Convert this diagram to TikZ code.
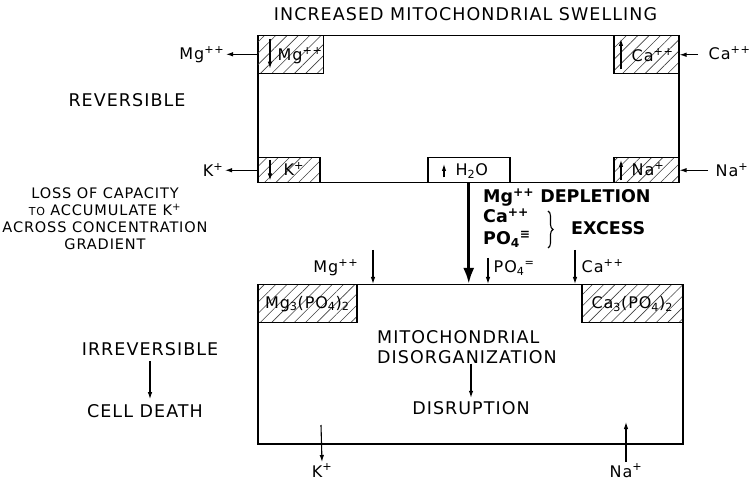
\documentclass[tikz,border=0pt]{standalone}
\usepackage{fontspec}
\setmainfont{DejaVu Sans}[LetterSpace=6,BoldFeatures={LetterSpace=0}]
\usetikzlibrary{positioning,arrows.meta,patterns.meta,decorations.pathreplacing}

\begin{document}
\begin{tikzpicture}[x=1pt,y=-1pt,
  big/.style={font=\fontsize{17.5}{20}\selectfont,inner sep=0pt},
  bigb/.style={font=\fontsize{17.5}{20}\selectfont\bfseries,inner sep=0pt},
  mid/.style={font=\fontsize{14.5}{17}\selectfont,inner sep=0pt},
  ion/.style={font=\fontsize{16}{18}\selectfont,inner sep=1.5pt},
  memb/.style={draw,line width=1.5pt,anchor=north west,inner sep=0pt},
  hb/.style={memb,pattern={Lines[angle=45,distance=8pt,line width=0.6pt]},pattern color=black!75,font=\fontsize{16}{18}\selectfont},
  ar/.style={-{Latex[length=7pt,width=4.5pt]},line width=1.1pt},
  thk/.style={-{Latex[length=16pt,width=11pt]},line width=3pt}]
  \useasboundingbox (0,0) rectangle (753,481);
  % upper mitochondrion
  \node[big] (title) at (465.5,14) {INCREASED MITOCHONDRIAL SWELLING};
  \node[memb,minimum width=421,minimum height=147] (swell) at (257,35) {};
  \node[hb,minimum width=66,minimum height=38] (mgbox) at (257,35) {};
  \node[hb,minimum width=65,minimum height=38] (cabox) at (613,35) {};
  \node[hb,minimum width=62,minimum height=25] (kbox) at (257,157) {};
  \node[hb,minimum width=65,minimum height=25] (nabox) at (613,157) {};
  \node[memb,fill=white,minimum width=82,minimum height=25] (h2o) at (427,157) {};
  \node[ion,anchor=base west] (mgt) at (276,61) {Mg\textsuperscript{++}};
  \node[ion,anchor=base west] (cat) at (630,62) {Ca\textsuperscript{++}};
  \node[ion,anchor=base west] (kt) at (282,176) {K\textsuperscript{+}};
  \node[ion,anchor=base west] (nat) at (630,176) {Na\textsuperscript{+}};
  \node[ion,anchor=base west] (h2ot) at (454,176) {H\textsubscript{2}O};
  \draw[ar] ([xshift=13pt,yshift=-4pt]mgbox.north west) -- ([xshift=13pt,yshift=5pt]mgbox.south west);
  \draw[ar] ([xshift=8pt,yshift=5pt]cabox.south west) -- ([xshift=8pt,yshift=-4pt]cabox.north west);
  \draw[ar] ([xshift=13pt,yshift=-3pt]kbox.north west) -- ([xshift=13pt,yshift=3pt]kbox.south west);
  \draw[ar] ([xshift=8pt,yshift=3pt]nabox.south west) -- ([xshift=8pt,yshift=-3pt]nabox.north west);
  \draw[ar] ([xshift=17pt,yshift=6pt]h2o.south west) -- ([xshift=17pt,yshift=-7pt]h2o.north west);
  % ions in and out
  \node[ion,anchor=base east] (mgout) at (226,60) {Mg\textsuperscript{++}};
  \node[ion,anchor=base east] (kout) at (225,177) {K\textsuperscript{+}};
  \node[ion,anchor=base west] (caout) at (707,60) {Ca\textsuperscript{++}};
  \node[ion,anchor=base west] (naout) at (714,177) {Na\textsuperscript{+}};
  \draw[ar] (mgbox.west) -- (mgbox.west -| mgout.east);
  \draw[ar] (kbox.west) -- (kbox.west -| kout.east);
  \draw[ar,shorten <=9pt] (cabox.east -| caout.west) -- (cabox.east);
  \draw[ar,shorten <=6pt] (nabox.east -| naout.west) -- (nabox.east);
  \node[big] (rev) at (127,100) {REVERSIBLE};
  \node[mid,align=center] (loss) at (105,219) {LOSS OF CAPACITY\\{\fontsize{11}{17}\selectfont TO} ACCUMULATE K\textsuperscript{+}\\ACROSS CONCENTRATION\\GRADIENT};
  % transition
  \node[memb,minimum width=425,minimum height=159] (lowbox) at (257,284) {};
  \draw[thk] (swell.south -| h2o) -- (lowbox.north -| h2o);
  \node[bigb,anchor=base west] (depl) at (483,203) {Mg\textsuperscript{++} DEPLETION};
  \node[bigb,anchor=base west] (caex) at (483,223) {Ca\textsuperscript{++}};
  \node[bigb,anchor=base west] (poex) at (483,245) {PO\textsubscript{4}\textsuperscript{≡}};
  \draw[line width=1.1pt,decorate,decoration={brace,amplitude=5pt}] (548,211) -- (548,248);
  \node[bigb,anchor=base west] (exc) at (571,235) {EXCESS};
  % lower mitochondrion
  \node[ion,anchor=base east] (mgl) at (360,273) {Mg\textsuperscript{++}};
  \node[ion,anchor=base west] (pol) at (492,273) {PO\textsubscript{4}\textsuperscript{=}};
  \node[ion,anchor=base west] (cal) at (580,273) {Ca\textsuperscript{++}};
  \coordinate (mgin) at (373,250);
  \coordinate (poin) at (488,258);
  \coordinate (cain) at (575,250);
  \draw[ar] (mgin) -- (mgin |- lowbox.north);
  \draw[ar] (poin) -- (poin |- lowbox.north);
  \draw[ar] (cain) -- (cain |- lowbox.north);
  \node[hb,minimum width=99,minimum height=38] (mgpo) at (257,284) {Mg\textsubscript{3}(PO\textsubscript{4})\textsubscript{2}};
  \node[hb,minimum width=101,minimum height=38] (capo) at (581,284) {Ca\textsubscript{3}(PO\textsubscript{4})\textsubscript{2}};
  \node[big,align=left,anchor=north west] (disorg) at (377,330) {MITOCHONDRIAL\\DISORGANIZATION};
  \node[big,anchor=base] (disrupt) at (471,414) {DISRUPTION};
  \draw[ar,shorten >=3pt] (disorg.south -| disrupt) -- (disrupt.north);
  \coordinate (kst) at (321,425);
  \coordinate (nast) at (626,422);
  \node[ion,anchor=base] (klow) at (322,477) {K\textsuperscript{+}};
  \node[ion,anchor=base] (nalow) at (626,477) {Na\textsuperscript{+}};
  \draw[ar] (kst) -- (klow.north);
  \draw[ar] (nalow.north) -- (nast);
  % fate
  \node[big] (irrev) at (150,349) {IRREVERSIBLE};
  \node[big] (death) at (145,411) {CELL DEATH};
  \draw[ar,shorten <=5pt,shorten >=5pt] (irrev.south) -- (irrev.south |- death.north);
\end{tikzpicture}
\end{document}
